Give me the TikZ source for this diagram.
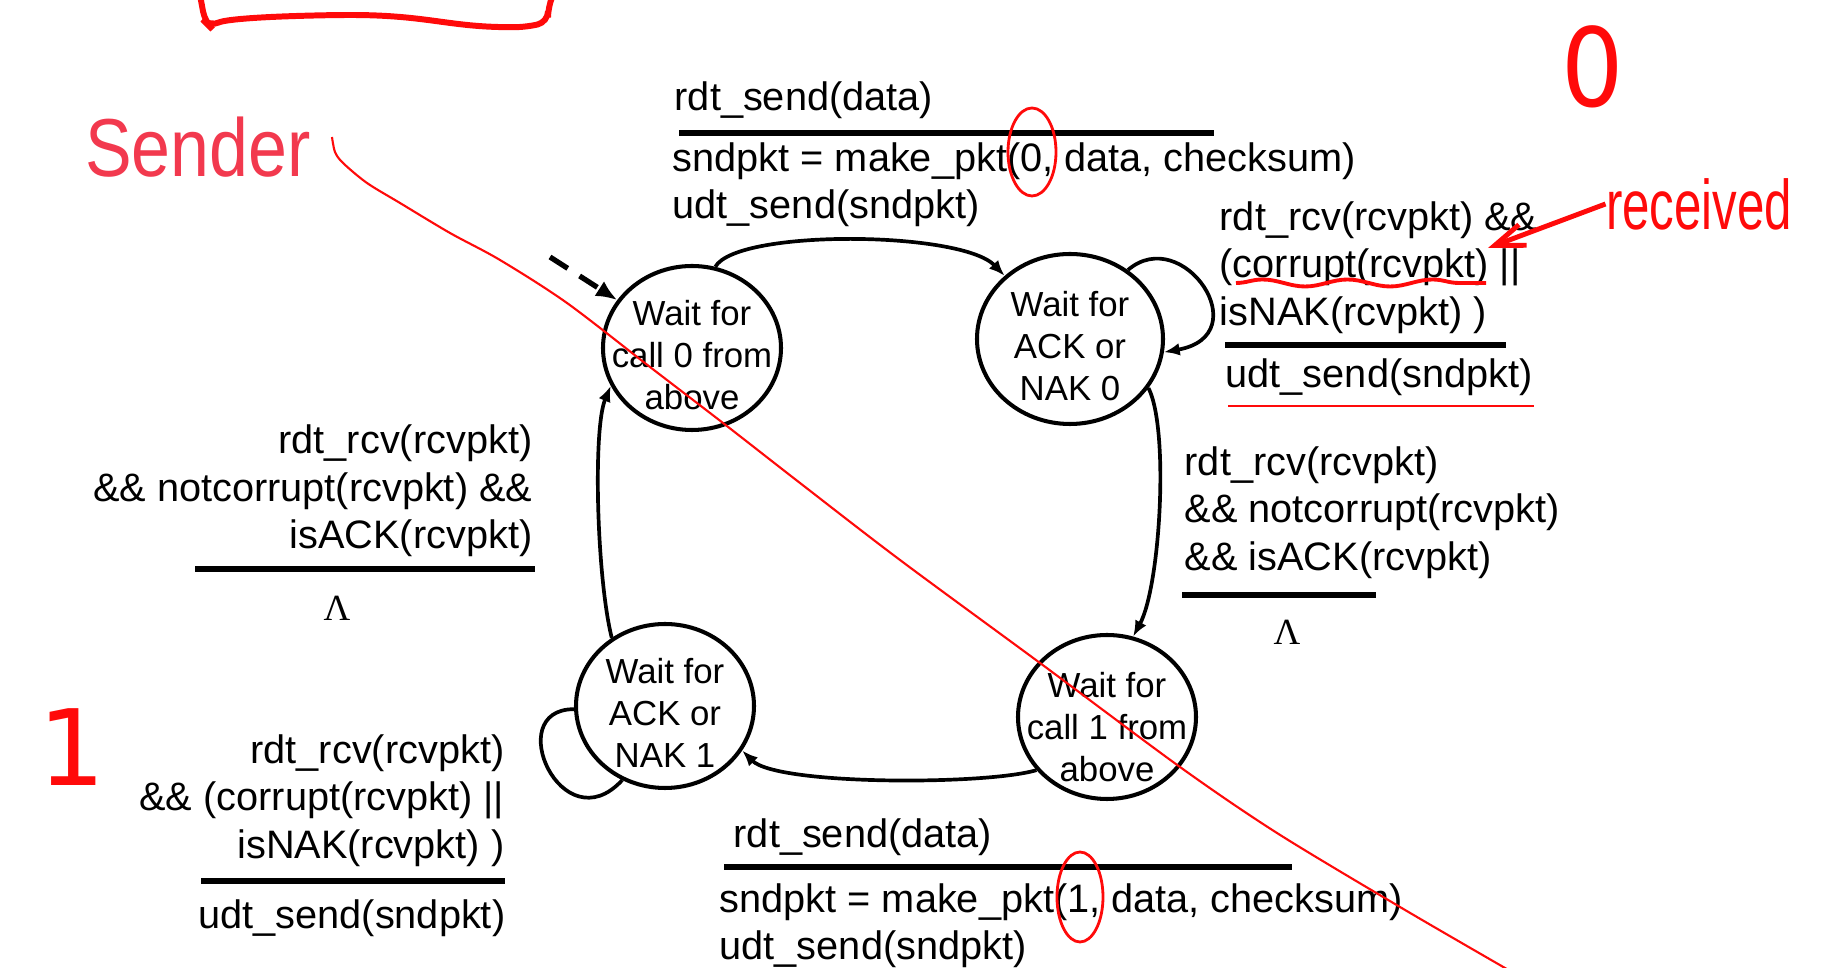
\documentclass[tikz,border=0pt]{standalone}
\usepackage{fontspec}
\setmainfont{Liberation Sans}
\newfontfamily\serifont{Liberation Serif}
\newfontfamily\handfont{DejaVu Sans}
\usetikzlibrary{shapes.geometric,arrows.meta,decorations.pathmorphing}
\definecolor{ink}{HTML}{FF0A0A}
\definecolor{pen}{HTML}{F2394E}

\begin{document}
\begin{tikzpicture}[>={Latex[length=4.5pt,width=3.6pt]}, font=\fontsize{11.3}{13.5}\selectfont,
    state/.style={draw, ellipse, line width=1.15pt, minimum width=1.78cm, minimum height=1.64cm, inner sep=0pt},
    stxt/.style={font=\fontsize{9.9}{11.9}\selectfont, align=center, yshift=-0.07cm},
    lbl/.style={inner sep=0pt, align=left, anchor=west, yshift=-0.035cm},
    lblr/.style={inner sep=0pt, align=right, anchor=east, yshift=-0.035cm},
    lam/.style={inner sep=0pt, font=\serifont\fontsize{10.5}{12}\selectfont},
    bar/.style={line width=1.6pt},
    trans/.style={->, line width=1.05pt},
    hand/.style={text=ink, inner sep=0pt}]

    \useasboundingbox (0,0) rectangle (18.29,-9.68);

    % states
    \node[state, label={[stxt]center:Wait for\\call 0 from\\above}] (s0) at (6.92,-3.48) {};
    \node[state, minimum width=1.86cm, minimum height=1.70cm,
          label={[stxt]center:Wait for\\ACK or\\NAK 0}] (a0) at (10.70,-3.39) {};
    \node[state, label={[stxt, yshift=-0.03cm]center:Wait for\\call 1 from\\above}] (s1) at (11.07,-7.17) {};
    \node[state, label={[stxt]center:Wait for\\ACK or\\NAK 1}] (a1) at (6.65,-7.06) {};

    % transition labels
    \node[lbl] (ev0) at (6.74,-0.97) {rdt\_send(data)};
    \node[lbl] (act0) at (6.72,-1.815) {sndpkt = make\_pkt(0, data, checksum)\\udt\_send(sndpkt)};
    \node[lbl] (evN0) at (12.19,-2.64) {rdt\_rcv(rcvpkt) \&\&\\(corrupt(rcvpkt) ||\\isNAK(rcvpkt) )};
    \node[lbl] (actN0) at (12.25,-3.74) {udt\_send(sndpkt)};
    \node[lbl] (evA0) at (11.84,-5.09) {rdt\_rcv(rcvpkt)\\\&\& notcorrupt(rcvpkt)\\\&\& isACK(rcvpkt)};
    \node[lam] (lam0) at (12.87,-6.32) {Λ};
    \node[lblr] (evA1) at (5.33,-4.875) {rdt\_rcv(rcvpkt)\\\&\& notcorrupt(rcvpkt) \&\&\\isACK(rcvpkt)};
    \node[lam] (lam1) at (3.37,-6.08) {Λ};
    \node[lblr] (evN1) at (5.05,-7.97) {rdt\_rcv(rcvpkt)\\\&\& (corrupt(rcvpkt) ||\\isNAK(rcvpkt) )};
    \node[lblr] (actN1) at (5.06,-9.15) {udt\_send(sndpkt)};
    \node[lbl] (ev1) at (7.33,-8.34) {rdt\_send(data)};
    \node[lbl] (act1) at (7.19,-9.225) {sndpkt = make\_pkt(1, data, checksum)\\udt\_send(sndpkt)};

    \foreach \xa/\xb/\yb in {6.79/12.14/-1.33, 12.25/15.06/-3.45, 11.82/13.76/-5.95,
                             1.95/5.35/-5.69, 2.01/5.05/-8.81, 7.24/12.92/-8.67}
        \draw[bar] (\xa,\yb) -- (\xb,\yb);

    % transitions
    \coordinate (init) at (5.50,-2.57);
    \draw[line width=1.5pt, dash pattern=on 6pt off 4pt, -{Latex[length=6pt,width=5pt]}] (init) -- (s0);
    \draw[trans] (s0.74) .. controls +(0.22,0.38) and +(-0.43,0.45) .. (a0.136);
    \draw[trans] (a0.50) .. controls +(0.55,0.47) and +(0.95,0.17) .. (a0.-8);
    \draw[trans] (a0.-32) .. controls +(0.21,-0.42) and +(0.27,0.5) .. (s1.72);
    \draw[trans] (s1.217) .. controls +(-0.5,-0.15) and +(0.35,-0.35) .. (a1.-30);
    \draw[trans] (a1.128) .. controls +(-0.15,0.6) and +(-0.18,-0.43) .. (s0.205);
    \draw[line width=1.05pt] (a1.182) .. controls +(-0.73,0) and +(-0.6,-0.65) .. (a1.240);

    % red notes
    \draw[ink, line width=1.7pt, rounded corners=3pt] (2.00,0.05) -- (2.05,-0.22) -- (2.10,-0.27)
        .. controls (2.2,-0.22) and (2.3,-0.17) .. (3.4,-0.15)
        .. controls (4.3,-0.15) and (4.5,-0.28) .. (5.27,-0.27) -- (5.48,-0.22) -- (5.48,-0.07) -- (5.53,0.05);
    \node[text=pen, inner sep=0pt, font=\fontsize{23.4}{24}\selectfont, xscale=0.85] (sender) at (1.98,-1.47) {Sender};
    \node[hand, font=\handfont\fontsize{31}{31}\selectfont, xscale=0.9] (zero) at (15.93,-0.67) {0};
    \node[hand, font=\handfont\fontsize{30}{30}\selectfont] (one) at (0.72,-7.47) {1};
    \node[hand, font=\fontsize{20}{20}\selectfont, xscale=0.70] (recv) at (16.99,-2.04) {received};
    \coordinate (recvtip) at (14.88,-2.48);
    \draw[ink, line width=1.4pt, -{Straight Barb[length=0.3cm,width=0.22cm]}] (recv.west) -- (recvtip);
    \draw[ink, line width=1.1pt, decorate, decoration={snake, segment length=0.85cm, amplitude=0.035cm}]
        (12.36,-2.83) -- (14.86,-2.83);
    \draw[ink, line width=0.8pt] (12.28,-4.06) -- (15.34,-4.06);
    \draw[ink, line width=0.8pt] (10.32,-1.52) ellipse [x radius=0.24, y radius=0.44];
    \draw[ink, line width=0.8pt] (10.80,-8.97) ellipse [x radius=0.23, y radius=0.45];
    \draw[ink, line width=0.6pt] plot[smooth] coordinates {(3.32,-1.37) (3.35,-1.52) (3.43,-1.63) (3.67,-1.83)
        (4.00,-2.03) (4.50,-2.33) (5.00,-2.60) (5.67,-3.03) (6.50,-3.67) (7.23,-4.23) (8.00,-4.83) (9.00,-5.60)
        (10.40,-6.63) (11.80,-7.67) (12.77,-8.33) (14.00,-9.07) (15.05,-9.68) (15.40,-9.88)};
\end{tikzpicture}
\end{document}
